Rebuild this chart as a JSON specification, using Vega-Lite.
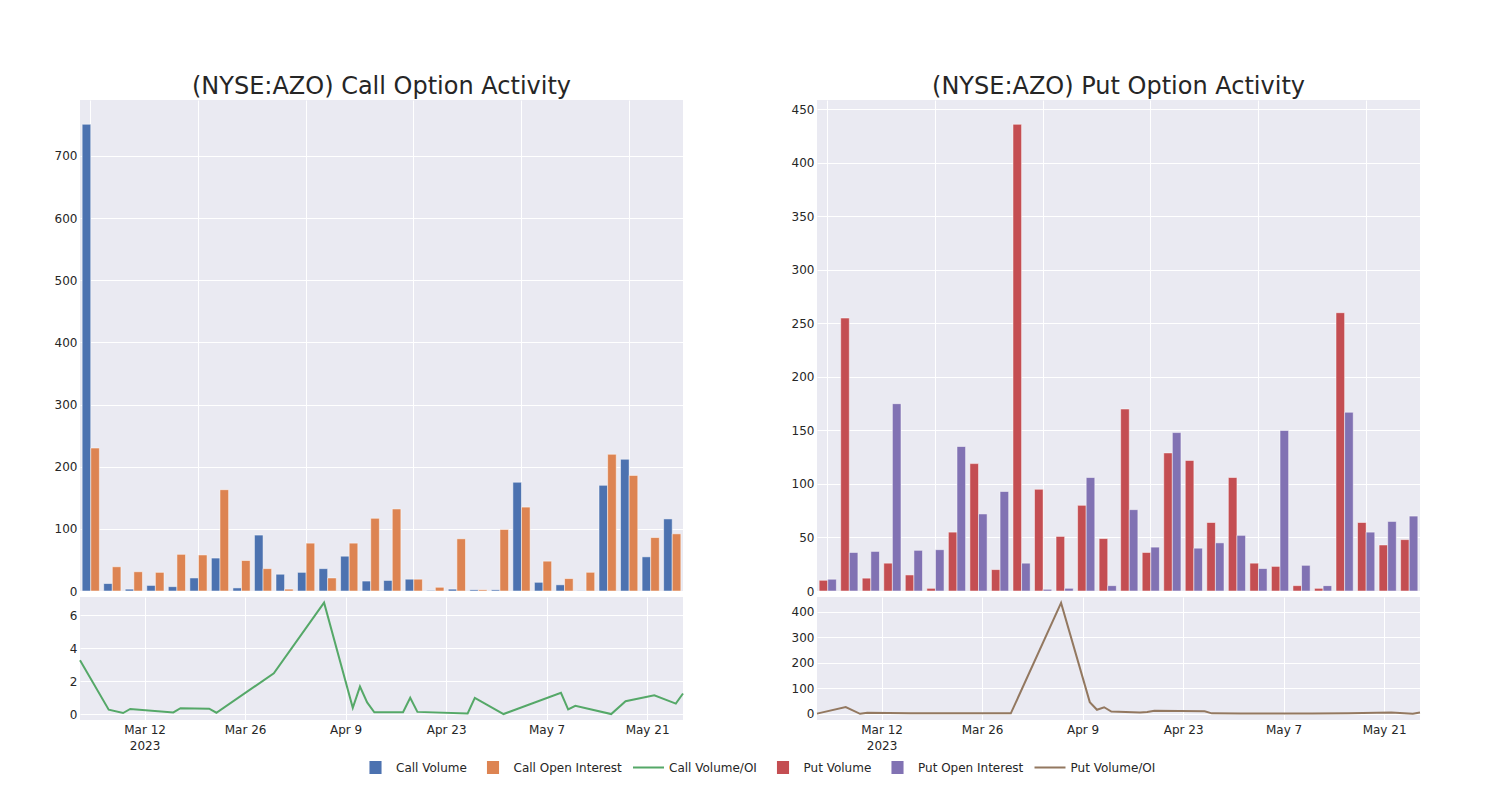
{
  "$schema": "https://vega.github.io/schema/vega-lite/v6.json",
  "background": "white",
  "padding": {"left": 54, "top": 75, "right": 5, "bottom": 5},
  "config": {
    "view": {"fill": "#EAEAF2", "stroke": null},
    "axis": {"labelFont": "DejaVu Sans", "labelFontSize": 12, "labelColor": "#262626", "domain": false, "ticks": false, "gridColor": "#ffffff", "gridWidth": 1, "labelPadding": 3, "title": null},
    "title": {"font": "DejaVu Sans", "fontSize": 24, "fontWeight": "normal", "color": "#262626", "offset": 1, "anchor": "middle"}
  },
  "datasets": {
    "callBars": [
      {"date":"2023-03-03","series":"Call Volume","value":751},{"date":"2023-03-03","series":"Call Open Interest","value":230},
      {"date":"2023-03-07","series":"Call Volume","value":12},{"date":"2023-03-07","series":"Call Open Interest","value":39},
      {"date":"2023-03-09","series":"Call Volume","value":3},{"date":"2023-03-09","series":"Call Open Interest","value":31},
      {"date":"2023-03-10","series":"Call Volume","value":9},{"date":"2023-03-10","series":"Call Open Interest","value":30},
      {"date":"2023-03-16","series":"Call Volume","value":7},{"date":"2023-03-16","series":"Call Open Interest","value":59},
      {"date":"2023-03-17","series":"Call Volume","value":21},{"date":"2023-03-17","series":"Call Open Interest","value":58},
      {"date":"2023-03-21","series":"Call Volume","value":53},{"date":"2023-03-21","series":"Call Open Interest","value":163},
      {"date":"2023-03-22","series":"Call Volume","value":5},{"date":"2023-03-22","series":"Call Open Interest","value":49},
      {"date":"2023-03-30","series":"Call Volume","value":90},{"date":"2023-03-30","series":"Call Open Interest","value":36},
      {"date":"2023-04-06","series":"Call Volume","value":27},{"date":"2023-04-06","series":"Call Open Interest","value":3},
      {"date":"2023-04-10","series":"Call Volume","value":30},{"date":"2023-04-10","series":"Call Open Interest","value":77},
      {"date":"2023-04-11","series":"Call Volume","value":36},{"date":"2023-04-11","series":"Call Open Interest","value":21},
      {"date":"2023-04-12","series":"Call Volume","value":56},{"date":"2023-04-12","series":"Call Open Interest","value":77},
      {"date":"2023-04-13","series":"Call Volume","value":16},{"date":"2023-04-13","series":"Call Open Interest","value":117},
      {"date":"2023-04-17","series":"Call Volume","value":17},{"date":"2023-04-17","series":"Call Open Interest","value":132},
      {"date":"2023-04-18","series":"Call Volume","value":19},{"date":"2023-04-18","series":"Call Open Interest","value":19},
      {"date":"2023-04-19","series":"Call Volume","value":1},{"date":"2023-04-19","series":"Call Open Interest","value":6},
      {"date":"2023-04-26","series":"Call Volume","value":3},{"date":"2023-04-26","series":"Call Open Interest","value":84},
      {"date":"2023-04-27","series":"Call Volume","value":2},{"date":"2023-04-27","series":"Call Open Interest","value":2},
      {"date":"2023-05-01","series":"Call Volume","value":2},{"date":"2023-05-01","series":"Call Open Interest","value":99},
      {"date":"2023-05-09","series":"Call Volume","value":175},{"date":"2023-05-09","series":"Call Open Interest","value":135},
      {"date":"2023-05-10","series":"Call Volume","value":14},{"date":"2023-05-10","series":"Call Open Interest","value":48},
      {"date":"2023-05-11","series":"Call Volume","value":10},{"date":"2023-05-11","series":"Call Open Interest","value":20},
      {"date":"2023-05-16","series":"Call Volume","value":0.5},{"date":"2023-05-16","series":"Call Open Interest","value":30},
      {"date":"2023-05-18","series":"Call Volume","value":170},{"date":"2023-05-18","series":"Call Open Interest","value":220},
      {"date":"2023-05-22","series":"Call Volume","value":212},{"date":"2023-05-22","series":"Call Open Interest","value":186},
      {"date":"2023-05-25","series":"Call Volume","value":55},{"date":"2023-05-25","series":"Call Open Interest","value":86},
      {"date":"2023-05-26","series":"Call Volume","value":116},{"date":"2023-05-26","series":"Call Open Interest","value":92}
    ],
    "putBars": [
      {"date":"2023-03-03","series":"Put Volume","value":10},{"date":"2023-03-03","series":"Put Open Interest","value":11},
      {"date":"2023-03-07","series":"Put Volume","value":255},{"date":"2023-03-07","series":"Put Open Interest","value":36},
      {"date":"2023-03-09","series":"Put Volume","value":12},{"date":"2023-03-09","series":"Put Open Interest","value":37},
      {"date":"2023-03-10","series":"Put Volume","value":26},{"date":"2023-03-10","series":"Put Open Interest","value":175},
      {"date":"2023-03-16","series":"Put Volume","value":15},{"date":"2023-03-16","series":"Put Open Interest","value":38},
      {"date":"2023-03-17","series":"Put Volume","value":2.5},{"date":"2023-03-17","series":"Put Open Interest","value":38.6},
      {"date":"2023-03-21","series":"Put Volume","value":55},{"date":"2023-03-21","series":"Put Open Interest","value":135},
      {"date":"2023-03-22","series":"Put Volume","value":119},{"date":"2023-03-22","series":"Put Open Interest","value":72},
      {"date":"2023-03-30","series":"Put Volume","value":20},{"date":"2023-03-30","series":"Put Open Interest","value":93},
      {"date":"2023-04-06","series":"Put Volume","value":436},{"date":"2023-04-06","series":"Put Open Interest","value":26},
      {"date":"2023-04-10","series":"Put Volume","value":95},{"date":"2023-04-10","series":"Put Open Interest","value":1.6},
      {"date":"2023-04-11","series":"Put Volume","value":51},{"date":"2023-04-11","series":"Put Open Interest","value":2.5},
      {"date":"2023-04-12","series":"Put Volume","value":80},{"date":"2023-04-12","series":"Put Open Interest","value":106},
      {"date":"2023-04-13","series":"Put Volume","value":49},{"date":"2023-04-13","series":"Put Open Interest","value":5},
      {"date":"2023-04-17","series":"Put Volume","value":170},{"date":"2023-04-17","series":"Put Open Interest","value":76},
      {"date":"2023-04-18","series":"Put Volume","value":36},{"date":"2023-04-18","series":"Put Open Interest","value":41},
      {"date":"2023-04-19","series":"Put Volume","value":129},{"date":"2023-04-19","series":"Put Open Interest","value":148},
      {"date":"2023-04-26","series":"Put Volume","value":122},{"date":"2023-04-26","series":"Put Open Interest","value":40},
      {"date":"2023-04-27","series":"Put Volume","value":64},{"date":"2023-04-27","series":"Put Open Interest","value":45},
      {"date":"2023-05-01","series":"Put Volume","value":106},{"date":"2023-05-01","series":"Put Open Interest","value":52},
      {"date":"2023-05-09","series":"Put Volume","value":26},{"date":"2023-05-09","series":"Put Open Interest","value":21},
      {"date":"2023-05-10","series":"Put Volume","value":23},{"date":"2023-05-10","series":"Put Open Interest","value":150},
      {"date":"2023-05-11","series":"Put Volume","value":5},{"date":"2023-05-11","series":"Put Open Interest","value":24},
      {"date":"2023-05-16","series":"Put Volume","value":2.5},{"date":"2023-05-16","series":"Put Open Interest","value":5},
      {"date":"2023-05-18","series":"Put Volume","value":260},{"date":"2023-05-18","series":"Put Open Interest","value":167},
      {"date":"2023-05-22","series":"Put Volume","value":64},{"date":"2023-05-22","series":"Put Open Interest","value":55},
      {"date":"2023-05-25","series":"Put Volume","value":43},{"date":"2023-05-25","series":"Put Open Interest","value":65},
      {"date":"2023-05-26","series":"Put Volume","value":48},{"date":"2023-05-26","series":"Put Open Interest","value":70}
    ],
    "callLine": [
      {"date":"2023-03-03","series":"Call Volume/OI","ratio":3.27},
      {"date":"2023-03-07","series":"Call Volume/OI","ratio":0.28},
      {"date":"2023-03-09","series":"Call Volume/OI","ratio":0.08},
      {"date":"2023-03-10","series":"Call Volume/OI","ratio":0.33},
      {"date":"2023-03-16","series":"Call Volume/OI","ratio":0.12},
      {"date":"2023-03-17","series":"Call Volume/OI","ratio":0.37},
      {"date":"2023-03-21","series":"Call Volume/OI","ratio":0.34},
      {"date":"2023-03-22","series":"Call Volume/OI","ratio":0.1},
      {"date":"2023-03-30","series":"Call Volume/OI","ratio":2.48},
      {"date":"2023-04-06","series":"Call Volume/OI","ratio":6.75},
      {"date":"2023-04-10","series":"Call Volume/OI","ratio":0.4},
      {"date":"2023-04-11","series":"Call Volume/OI","ratio":1.68},
      {"date":"2023-04-12","series":"Call Volume/OI","ratio":0.72},
      {"date":"2023-04-13","series":"Call Volume/OI","ratio":0.13},
      {"date":"2023-04-17","series":"Call Volume/OI","ratio":0.13},
      {"date":"2023-04-18","series":"Call Volume/OI","ratio":1.0},
      {"date":"2023-04-19","series":"Call Volume/OI","ratio":0.15},
      {"date":"2023-04-26","series":"Call Volume/OI","ratio":0.06},
      {"date":"2023-04-27","series":"Call Volume/OI","ratio":1.0},
      {"date":"2023-05-01","series":"Call Volume/OI","ratio":0.02},
      {"date":"2023-05-09","series":"Call Volume/OI","ratio":1.3},
      {"date":"2023-05-10","series":"Call Volume/OI","ratio":0.3},
      {"date":"2023-05-11","series":"Call Volume/OI","ratio":0.52},
      {"date":"2023-05-16","series":"Call Volume/OI","ratio":0.02},
      {"date":"2023-05-18","series":"Call Volume/OI","ratio":0.79},
      {"date":"2023-05-22","series":"Call Volume/OI","ratio":1.15},
      {"date":"2023-05-25","series":"Call Volume/OI","ratio":0.65},
      {"date":"2023-05-26","series":"Call Volume/OI","ratio":1.26}
    ],
    "putLine": [
      {"date":"2023-03-03","series":"Put Volume/OI","ratio":1},
      {"date":"2023-03-07","series":"Put Volume/OI","ratio":27},
      {"date":"2023-03-09","series":"Put Volume/OI","ratio":0.3},
      {"date":"2023-03-10","series":"Put Volume/OI","ratio":4},
      {"date":"2023-03-16","series":"Put Volume/OI","ratio":2},
      {"date":"2023-03-17","series":"Put Volume/OI","ratio":2},
      {"date":"2023-03-21","series":"Put Volume/OI","ratio":2},
      {"date":"2023-03-22","series":"Put Volume/OI","ratio":2},
      {"date":"2023-03-30","series":"Put Volume/OI","ratio":2},
      {"date":"2023-04-06","series":"Put Volume/OI","ratio":435},
      {"date":"2023-04-10","series":"Put Volume/OI","ratio":46},
      {"date":"2023-04-11","series":"Put Volume/OI","ratio":16},
      {"date":"2023-04-12","series":"Put Volume/OI","ratio":26},
      {"date":"2023-04-13","series":"Put Volume/OI","ratio":9},
      {"date":"2023-04-17","series":"Put Volume/OI","ratio":5},
      {"date":"2023-04-18","series":"Put Volume/OI","ratio":7},
      {"date":"2023-04-19","series":"Put Volume/OI","ratio":12},
      {"date":"2023-04-26","series":"Put Volume/OI","ratio":10},
      {"date":"2023-04-27","series":"Put Volume/OI","ratio":2},
      {"date":"2023-05-01","series":"Put Volume/OI","ratio":1},
      {"date":"2023-05-09","series":"Put Volume/OI","ratio":1},
      {"date":"2023-05-10","series":"Put Volume/OI","ratio":1},
      {"date":"2023-05-11","series":"Put Volume/OI","ratio":1},
      {"date":"2023-05-16","series":"Put Volume/OI","ratio":2},
      {"date":"2023-05-18","series":"Put Volume/OI","ratio":3},
      {"date":"2023-05-22","series":"Put Volume/OI","ratio":5},
      {"date":"2023-05-25","series":"Put Volume/OI","ratio":0.5},
      {"date":"2023-05-26","series":"Put Volume/OI","ratio":5}
    ]
  },
  "columns": 2,
  "spacing": {"row": 0, "column": 104},
  "resolve": {"scale": {"color": "shared", "shape": "shared", "x": "independent", "y": "independent", "xOffset": "independent"}},
  "concat": [
    {
      "data": {"name": "callBars"},
      "title": {"text": "(NYSE:AZO) Call Option Activity"},
      "width": 603, "height": 491,
      "encoding": {
        "x": {"field": "date", "type": "ordinal", "scale": {"paddingInner": 0.2, "paddingOuter": 0.1},
              "axis": {"labels": false, "grid": true, "bandPosition": 0.5, "values": ["2023-03-03","2023-03-17","2023-04-10","2023-04-18","2023-05-09","2023-05-22"]}},
        "xOffset": {"field": "series", "type": "nominal", "scale": {"domain": ["Call Volume", "Call Open Interest"], "paddingInner": 0, "paddingOuter": 0}},
        "y": {"field": "value", "type": "quantitative", "scale": {"domain": [0, 790], "nice": false}, "axis": {"values": [0,100,200,300,400,500,600,700]}},
        "color": {"field": "series", "type": "nominal",
                  "scale": {"domain": ["Call Volume","Call Open Interest","Call Volume/OI","Put Volume","Put Open Interest","Put Volume/OI"], "range": ["#4C72B0","#DD8452","#55A868","#C44E52","#8172B3","#937860"]},
                  "legend": {"orient": "none", "legendX": 280, "legendY": 652, "direction": "horizontal", "columns": 6, "gridAlign": "none", "title": null, "symbolSize": 961, "symbolStrokeWidth": 0, "labelFont": "DejaVu Sans", "labelFontSize": 12, "labelColor": "#262626", "labelOffset": 5, "columnPadding": 10.5}}
      },
      "layer": [
        {"mark": {"type": "bar", "stroke": "#ffffff", "strokeWidth": 0.5}},
        {"mark": {"type": "point", "filled": true, "opacity": 0},
         "encoding": {"shape": {"field": "series", "type": "nominal",
           "scale": {"domain": ["Call Volume","Call Open Interest","Call Volume/OI","Put Volume","Put Open Interest","Put Volume/OI"],
                     "range": ["M-0.39,-0.42H0.39V0.42H-0.39Z","M-0.39,-0.42H0.39V0.42H-0.39Z","M-1,-0.065H1V0.065H-1Z","M-0.39,-0.42H0.39V0.42H-0.39Z","M-0.39,-0.42H0.39V0.42H-0.39Z","M-1,-0.065H1V0.065H-1Z"]},
           "legend": {"orient": "none", "legendX": 280, "legendY": 652, "direction": "horizontal", "columns": 6, "gridAlign": "none", "title": null, "symbolSize": 961, "symbolStrokeWidth": 0, "labelFont": "DejaVu Sans", "labelFontSize": 12, "labelColor": "#262626", "labelOffset": 5, "columnPadding": 10.5}}}}
      ]
    },
    {
      "data": {"name": "putBars"},
      "title": {"text": "(NYSE:AZO) Put Option Activity"},
      "width": 603, "height": 491,
      "mark": {"type": "bar", "stroke": "#ffffff", "strokeWidth": 0.5},
      "encoding": {
        "x": {"field": "date", "type": "ordinal", "scale": {"paddingInner": 0.2, "paddingOuter": 0.1},
              "axis": {"labels": false, "grid": true, "bandPosition": 0.5, "values": ["2023-03-03","2023-03-17","2023-04-10","2023-04-18","2023-05-09","2023-05-22"]}},
        "xOffset": {"field": "series", "type": "nominal", "scale": {"domain": ["Put Volume", "Put Open Interest"], "paddingInner": 0, "paddingOuter": 0}},
        "y": {"field": "value", "type": "quantitative", "scale": {"domain": [0, 458.7], "nice": false}, "axis": {"values": [0,50,100,150,200,250,300,350,400,450]}},
        "color": {"field": "series", "type": "nominal"}
      }
    },
    {
      "data": {"name": "callLine"},
      "width": 603, "height": 123,
      "mark": {"type": "line", "strokeWidth": 2},
      "encoding": {
        "x": {"field": "date", "type": "temporal",
              "scale": {"type": "utc", "domain": [{"year": 2023, "month": 3, "date": 3, "utc": true}, {"year": 2023, "month": 5, "date": 26, "utc": true}]},
              "axis": {"labelPadding": 4, "labelLineHeight": 16,
                       "values": [{"year": 2023, "month": 3, "date": 12, "utc": true}, {"year": 2023, "month": 3, "date": 26, "utc": true}, {"year": 2023, "month": 4, "date": 9, "utc": true}, {"year": 2023, "month": 4, "date": 23, "utc": true}, {"year": 2023, "month": 5, "date": 7, "utc": true}, {"year": 2023, "month": 5, "date": 21, "utc": true}],
                       "labelExpr": "utcFormat(datum.value, '%b %-d') == 'Mar 12' ? ['Mar 12', '2023'] : utcFormat(datum.value, '%b %-d')"}},
        "y": {"field": "ratio", "type": "quantitative", "scale": {"domain": [-0.34, 7.09], "nice": false, "zero": false}, "axis": {"values": [0,2,4,6]}},
        "color": {"field": "series", "type": "nominal"}
      }
    },
    {
      "data": {"name": "putLine"},
      "width": 603, "height": 123,
      "mark": {"type": "line", "strokeWidth": 2},
      "encoding": {
        "x": {"field": "date", "type": "temporal",
              "scale": {"type": "utc", "domain": [{"year": 2023, "month": 3, "date": 3, "utc": true}, {"year": 2023, "month": 5, "date": 26, "utc": true}]},
              "axis": {"labelPadding": 4, "labelLineHeight": 16,
                       "values": [{"year": 2023, "month": 3, "date": 12, "utc": true}, {"year": 2023, "month": 3, "date": 26, "utc": true}, {"year": 2023, "month": 4, "date": 9, "utc": true}, {"year": 2023, "month": 4, "date": 23, "utc": true}, {"year": 2023, "month": 5, "date": 7, "utc": true}, {"year": 2023, "month": 5, "date": 21, "utc": true}],
                       "labelExpr": "utcFormat(datum.value, '%b %-d') == 'Mar 12' ? ['Mar 12', '2023'] : utcFormat(datum.value, '%b %-d')"}},
        "y": {"field": "ratio", "type": "quantitative", "scale": {"domain": [-24, 458], "nice": false, "zero": false}, "axis": {"values": [0,100,200,300,400]}},
        "color": {"field": "series", "type": "nominal"}
      }
    }
  ]
}
